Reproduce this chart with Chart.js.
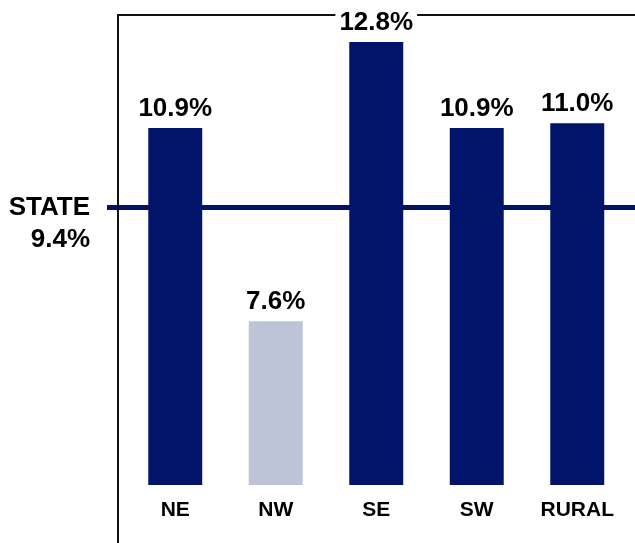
<!DOCTYPE html>
<html>
<head>
<meta charset="utf-8">
<script src="https://cdn.jsdelivr.net/npm/chart.js@4"></script>
<style>
    body { margin: 0; background: #fff; }
    canvas { display: block; }
</style>
</head>
<body>
<canvas id="regionChart" width="635" height="543"></canvas>
<script>
const regions = ['NE', 'NW', 'SE', 'SW', 'RURAL']
const regionRates = [10.9, 7.6, 12.8, 10.9, 11.0]
const stateRate = 9.4
const stateLabel = 'STATE'

const NAVY = '#02136a'
const LIGHT = '#bec4d8'
const FONT = "'Liberation Sans', Arial, sans-serif"

function pct(v) {
    return v.toFixed(1) + '%'
}

// frame, state line and all the text are drawn here, positions come from the scales
const overlayPlugin = {
    id: 'overlay',
    beforeDatasetsDraw(chart) {
        const { ctx, scales: { y } } = chart
        const stateY = y.getPixelForValue(stateRate)
        ctx.save()
        ctx.strokeStyle = NAVY
        ctx.lineWidth = 5
        ctx.beginPath()
        ctx.moveTo(107, stateY)
        ctx.lineTo(chart.width, stateY)
        ctx.stroke()

        ctx.strokeStyle = '#111'
        ctx.lineWidth = 2
        ctx.beginPath()
        ctx.moveTo(118, chart.height)
        ctx.lineTo(118, 15)
        ctx.lineTo(chart.width, 15)
        ctx.stroke()
        ctx.restore()
    },
    afterDatasetsDraw(chart) {
        const { ctx, chartArea, scales: { y } } = chart
        const bars = chart.getDatasetMeta(0).data
        ctx.save()
        ctx.textAlign = 'center'

        ctx.font = 'bold 26px ' + FONT
        bars.forEach((bar, i) => {
            const txt = pct(regionRates[i])
            const w = ctx.measureText(txt).width
            const base = bar.y - 12
            ctx.fillStyle = '#fff'
            ctx.fillRect(bar.x - w / 2 - 4, base - 20, w + 8, 22)
            ctx.fillStyle = '#000'
            ctx.textBaseline = 'alphabetic'
            ctx.fillText(txt, bar.x, base)
        })

        ctx.font = 'bold 21px ' + FONT
        ctx.textBaseline = 'middle'
        bars.forEach((bar, i) => {
            ctx.fillText(regions[i], bar.x, chartArea.bottom + 25)
        })

        const stateY = y.getPixelForValue(stateRate)
        ctx.font = 'bold 26px ' + FONT
        ctx.textAlign = 'right'
        ctx.textBaseline = 'middle'
        ctx.fillText(stateLabel, 90, stateY)
        ctx.textBaseline = 'alphabetic'
        ctx.fillText(pct(stateRate), 90, stateY + 40)
        ctx.restore()
    }
}

const barColors = regionRates.map(v => v < stateRate ? LIGHT : NAVY)

new Chart(document.getElementById('regionChart').getContext('2d'), {
    type: 'bar',
    data: {
        labels: regions,
        datasets: [{
            data: regionRates,
            backgroundColor: barColors,
            borderWidth: 0,
            barPercentage: 0.537,
            categoryPercentage: 1
        }]
    },
    options: {
        responsive: false,
        animation: false,
        layout: { padding: { left: 125, right: 7.5, top: 15, bottom: 58 } },
        plugins: { legend: { display: false }, tooltip: { enabled: false } },
        scales: {
            x: { display: false },
            // the original is not drawn to scale, a log axis follows its bar heights best
            y: { type: 'logarithmic', display: false, min: 5.64, max: 13.46 }
        }
    },
    plugins: [overlayPlugin]
})
</script>
</body>
</html>
